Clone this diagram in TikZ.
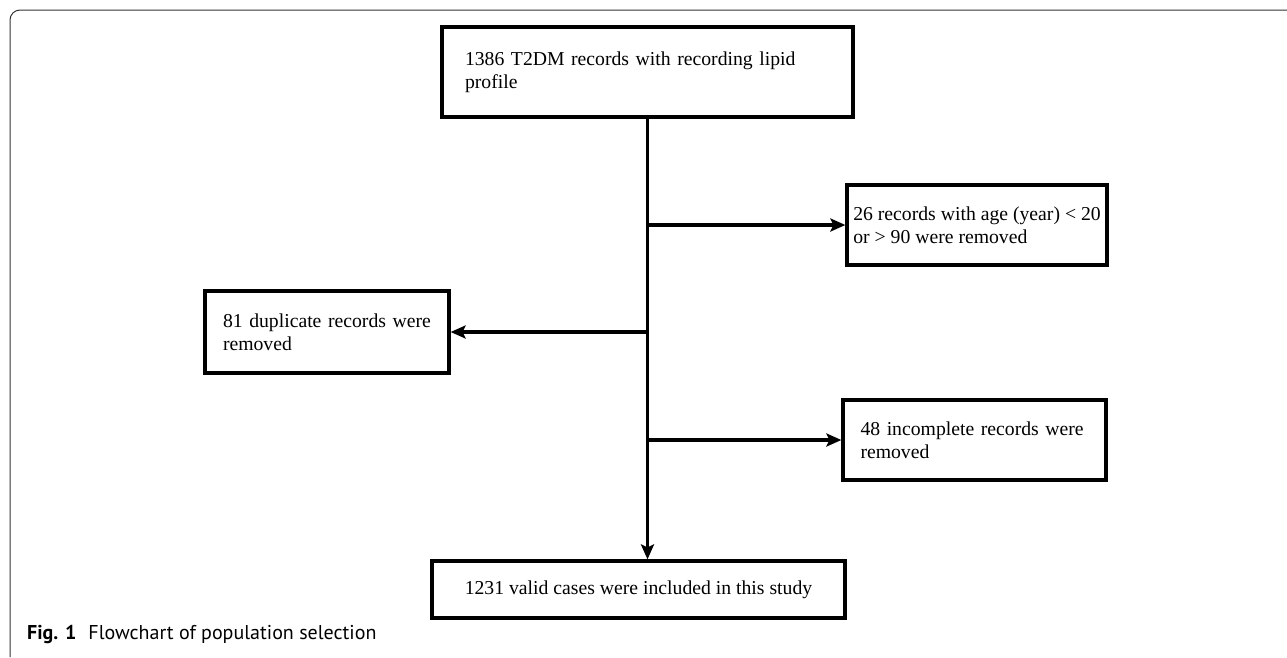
\documentclass[tikz,border=0pt]{standalone}
\usepackage{fontspec}
\setmainfont{Liberation Serif}
\newfontfamily\capfont{PT Sans}
\usetikzlibrary{arrows.meta}
\begin{document}
\begin{tikzpicture}[x=1pt,y=-1pt,
  box/.style={draw, line width=3.2pt, inner sep=0pt, font=\fontsize{19.7}{23}\selectfont, align=left},
  flow/.style={line width=3.2pt, -{Stealth[length=15pt,width=13pt,inset=3pt]}},
  frame/.style={line width=1pt, black!80, rounded corners=10pt}]
\useasboundingbox (0,0) rectangle (1287,657);
\draw[frame] (10,657) -- (10,10) -- (1287,10);
\node[box, minimum width=411pt, minimum height=90pt, text width=365pt] (src) at (647.5,72) {1386 T2DM records with recording lipid\\profile};
\node[box, minimum width=260pt, minimum height=80pt] (age) at (977,225) {26 records with age (year) < 20\\or > 90 were removed};
\node[box, minimum width=244pt, minimum height=82pt, text width=208pt] (dup) at (327,332) {81 duplicate records were\\removed};
\node[box, minimum width=263pt, minimum height=80pt, text width=228pt] (inc) at (974.5,440) {48 incomplete records were\\removed};
\node[box, minimum width=413pt, minimum height=57pt, align=center] (dst) at (638.5,589.5) {1231 valid cases were included in this study};
\draw[flow] (src.south) -- (src.south |- dst.north);
\draw[flow] (src.south |- age.west) -- (age.west);
\draw[flow] (src.south |- dup.east) -- (dup.east);
\draw[flow] (src.south |- inc.west) -- (inc.west);
\node[anchor=base west, font=\capfont\fontsize{20}{24}\selectfont, inner sep=0pt] (cap) at (27,639) {\textbf{Fig. 1}\hspace{0.6em}Flowchart of population selection};
\end{tikzpicture}
\end{document}
